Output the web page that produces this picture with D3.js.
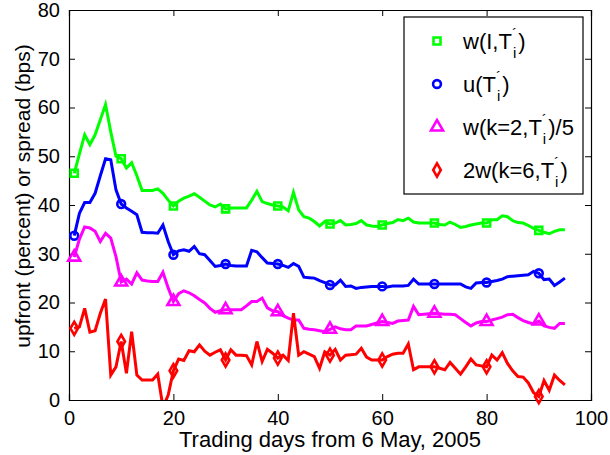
<!DOCTYPE html>
<html>
<head>
<meta charset="utf-8">
<style>
  body { margin: 0; background: #fff; }
  text { font-family: "Liberation Sans", Arial, sans-serif; fill: #000; }
</style>
<title>upfront or spread by trading day</title>
</head>
<body>
<script src="https://cdn.jsdelivr.net/npm/d3@7/dist/d3.min.js"></script>
<script>
// values, trading day 1..95
const days = d3.range(1, 96);
const markerDays = [1, 10, 20, 30, 40, 50, 60, 70, 80, 90];
const xTicks = [0, 20, 40, 60, 80, 100];
const yTicks = [0, 10, 20, 30, 40, 50, 60, 70, 80];

const wIndex = [46.5,50.5,54.4,52.4,54.4,57.5,60.6,55,50,49.5,47.6,48.7,46,43,43,43,43.3,42.4,41,39.8,
  40.8,41.4,41.8,42.3,41.6,40.8,40,39.6,40.2,39.2,39.4,39.4,39.4,39.4,41,42.8,40.7,40.3,40,39.8,
  39.6,38.8,42.6,39,37.6,37.3,36.6,35.7,36.6,36.1,36.3,36.8,35.9,36,36.2,36.8,35.9,35.7,35.6,35.9,
  36.2,36.4,37,36.8,37.3,36.5,36.3,36.3,36.3,36.3,36,35.9,36.5,36,35.4,35.6,35.9,36.1,36.3,36.3,
  37,37,37.8,37.6,36.8,36.4,36.3,35.8,35.2,34.8,34.4,34.1,34.6,34.9,34.9];
const uIndex = [33.7,38.3,40.5,40.5,42.4,46,49.5,49.3,43.1,40.2,39.4,38.7,38,34.4,34.3,34.3,34.2,35.9,32.5,29.8,
  30.6,30.8,30.5,31.5,30,29.8,28.6,27.4,27.6,27.9,27.6,27.5,27.5,27.5,30.7,30.4,29.2,28.1,28,27.9,
  27.6,27.2,28,27.4,25.2,25.1,25,24.5,24.1,23.6,23.6,24.6,23.3,23.4,22.9,23.1,23.2,23.3,23.3,23.3,
  23.2,23.4,23.4,23.4,23.5,24.8,23.8,23.8,23.8,23.8,23.8,23.8,23.8,23.8,23.8,23.2,22.9,24,24.1,24.1,
  24.3,24.5,24.8,25.3,25.4,25.5,25.6,25.7,26.4,26,24.7,24.8,23.5,24.2,25];
const wK2 = [29.3,33,35.5,35.3,34.6,32.5,34.2,33.2,29.4,24.2,24.8,23.8,26.1,24.6,24.4,24.3,24.3,26.2,23,20.2,
  21.8,22.4,22,21.4,20.6,19.9,18.8,18,18.3,18.5,18.5,18.5,18.5,19.3,20.2,20.2,20.9,18.9,18.3,18.1,
  17.3,16.8,16.4,16.4,14.7,14.5,14.4,14.2,14,14.5,15,14.6,14.4,14.4,15.2,15.2,15.2,15.5,15.8,16.1,
  15.9,15.7,16.2,16.3,16.4,19.2,17.5,17.6,17.7,17.8,17.7,17.6,17.6,17.5,16.7,15.9,15.2,15.8,16.1,16.1,
  16.4,16.7,17,17.5,17.6,16.9,16.3,15.9,15.6,16.2,15.2,14.9,14.7,15.7,15.7];
const wK6 = [14.7,15,18.8,13.9,14.2,17.8,20.7,5.1,6.8,12,5.5,14,5.1,4.1,4.1,4.1,5.3,-1.5,1,6,
  8.4,8.1,10.1,9.9,11.3,10,9.2,9.8,10.3,8.2,10.3,9.2,9.2,9.1,7.2,12,7.9,10.4,9.6,8.6,
  9.2,8.1,17.8,9.2,9.9,9.4,8.9,6.5,9.9,9.2,10.4,8.2,9.2,9.3,9.4,10.6,8.8,8.2,8.2,8.2,
  8.9,9.4,9.6,9.6,11.5,6.2,6.8,6.8,6.8,6.8,6.5,6.2,7.7,6.5,5.3,6.8,8.4,7.2,7,6.8,
  9.2,8.2,9.7,7.5,6,4.8,4.7,3.5,1.5,0.7,4,2,5.1,4,3.1];

const series = [
  {values: wIndex, color: "#00ff00", symbol: d3.symbolSquare, size: 49, name: ["w(I,T", ")"]},
  {values: uIndex, color: "#0000ff", symbol: d3.symbolCircle, size: 48, name: ["u(T", ")"]},
  {values: wK2, color: "#ff00ff", symbol: d3.symbolTriangle, size: 62, name: ["w(k=2,T", ")/5"]},
  {values: wK6, color: "#ff0000", symbol: d3.symbolDiamond, size: 50, name: ["2w(k=6,T", ")"]}
];

const margin = {top: 10, right: 19, bottom: 55, left: 69};
const width = 610 - margin.left - margin.right;
const height = 455 - margin.top - margin.bottom;

const x = d3.scaleLinear().domain([0, 100]).range([0, width]);
const y = d3.scaleLinear().domain([0, 80]).range([height, 0]);

const svg = d3.select("body").append("svg")
  .attr("width", 610)
  .attr("height", 455)
  .append("g")
  .attr("transform", "translate(" + margin.left + "," + margin.top + ")");

svg.append("clipPath").attr("id", "clip")
  .append("rect").attr("width", width).attr("height", height);

// axes, MATLAB style: ticks inside, box all round
const tickLen = 6;
svg.append("g")
  .attr("transform", "translate(0," + height + ")")
  .call(d3.axisBottom(x).tickValues(xTicks).tickSize(-tickLen).tickPadding(tickLen + 5))
  .call(g => g.selectAll("text").style("font-size", "20px"));
svg.append("g")
  .call(d3.axisTop(x).tickValues(xTicks).tickSize(-tickLen).tickFormat(""));
svg.append("g")
  .call(d3.axisLeft(y).tickValues(yTicks).tickSize(-tickLen).tickPadding(tickLen + 3))
  .call(g => g.selectAll("text").style("font-size", "20px"));
svg.append("g")
  .attr("transform", "translate(" + width + ",0)")
  .call(d3.axisRight(y).tickValues(yTicks).tickSize(-tickLen).tickFormat(""));
svg.selectAll(".domain").attr("stroke", "#000").attr("stroke-width", 1.2);
svg.selectAll(".tick line").attr("stroke", "#000");

const line = d3.line()
  .x((d, i) => x(days[i]))
  .y(d => y(d));

series.forEach(function (s) {
  svg.append("path")
    .attr("clip-path", "url(#clip)")
    .attr("fill", "none")
    .attr("stroke", s.color)
    .attr("stroke-width", 3)
    .attr("stroke-linejoin", "miter")
    .attr("d", line(s.values));

  svg.selectAll(null)
    .data(markerDays)
    .enter().append("path")
    .attr("transform", d => "translate(" + x(d) + "," + y(s.values[d - 1]) + ")")
    .attr("d", d3.symbol().type(s.symbol).size(s.size))
    .attr("fill", "none")
    .attr("stroke", s.color)
    .attr("stroke-width", 2.6);
});

// axis labels
svg.append("text")
  .attr("x", width / 2)
  .attr("y", height + 47)
  .attr("text-anchor", "middle")
  .style("font-size", "22px")
  .text("Trading days from 6 May, 2005");

svg.append("text")
  .attr("transform", "rotate(-90)")
  .attr("x", -186)
  .attr("y", -39)
  .attr("text-anchor", "middle")
  .style("font-size", "21px")
  .text("upfront (percent) or spread (bps)");

// legend
const lg = svg.append("g").attr("transform", "translate(" + (404 - margin.left) + "," + (17 - margin.top) + ")");
lg.append("rect")
  .attr("width", 179).attr("height", 177)
  .attr("fill", "#fff").attr("stroke", "#000").attr("stroke-width", 1.2);

series.forEach(function (s, i) {
  const cy = 24 + i * 43;
  lg.append("path")
    .attr("transform", "translate(33," + cy + ")")
    .attr("d", d3.symbol().type(s.symbol).size(s.size))
    .attr("fill", "none")
    .attr("stroke", s.color)
    .attr("stroke-width", 2.6);
  const t = lg.append("text")
    .attr("x", 59)
    .attr("y", cy + 8)
    .style("font-size", "22px");
  t.append("tspan").text(s.name[0]);
  t.append("tspan").attr("dx", 0).attr("dy", -10).style("font-size", "15px").text("\u00b4");
  t.append("tspan").attr("dx", -4).attr("dy", 19).style("font-size", "15px").text("i");
  t.append("tspan").attr("dx", 2).attr("dy", -9).text(s.name[1]);
});
</script>
</body>
</html>
